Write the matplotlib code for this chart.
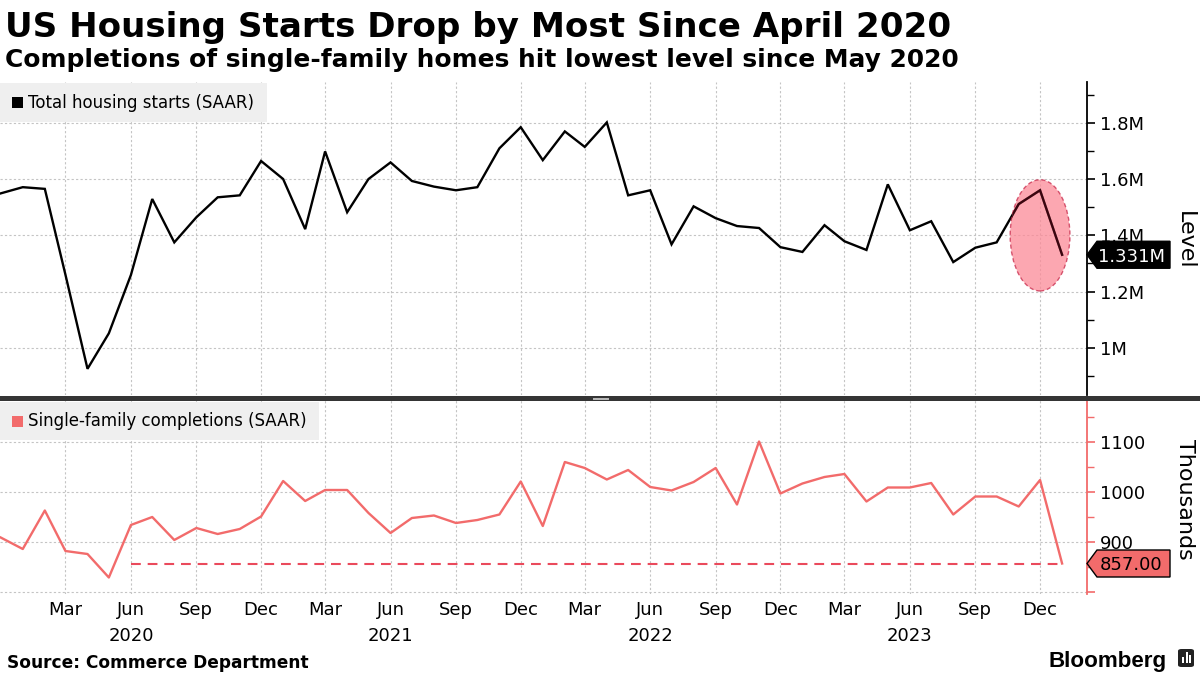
import matplotlib
matplotlib.use("Agg")
import matplotlib.pyplot as plt
import matplotlib.dates as mdates
from matplotlib.patches import Rectangle, Ellipse, Polygon, FancyBboxPatch
from matplotlib.lines import Line2D
from matplotlib.ticker import FixedLocator
import pandas as pd

# ---------------- data ----------------
dates = pd.date_range("2019-12-01", "2024-01-01", freq="MS")

housing_starts = [1.549, 1.571, 1.565, 1.260, 0.926, 1.052, 1.259, 1.529, 1.375, 1.464, 1.535, 1.542, 1.664,
                  1.600, 1.422, 1.698, 1.482, 1.600, 1.659, 1.593, 1.573, 1.560, 1.571, 1.709, 1.784,
                  1.667, 1.769, 1.714, 1.801, 1.542, 1.560, 1.368, 1.503, 1.461, 1.433, 1.426, 1.358,
                  1.341, 1.436, 1.379, 1.348, 1.581, 1.418, 1.450, 1.305, 1.356, 1.375, 1.511, 1.560,
                  1.331]

completions = [909, 886, 963, 882, 876, 829, 934, 950, 904, 928, 916, 926, 951,
               1022, 982, 1004, 1004, 958, 918, 948, 953, 938, 944, 955, 1021,
               932, 1060, 1048, 1025, 1044, 1010, 1003, 1020, 1048, 975, 1101, 997,
               1017, 1030, 1036, 981, 1009, 1009, 1018, 955, 991, 991, 971, 1024,
               857]

x_tick_dates = pd.date_range("2020-03-01", "2023-12-01", freq="3MS")

starts_ticks = [1.0, 1.2, 1.4, 1.6, 1.8]
starts_tick_labels = ["1M", "1.2M", "1.4M", "1.6M", "1.8M"]
comp_ticks = [800, 900, 1000, 1100]
comp_tick_labels = ["", "900", "1000", "1100"]

last_start_label = "1.331M"
last_comp_label = "857.00"
ref_line_start = "2020-06-01"
ref_line_end = "2024-01-01"
ref_line_value = 857
highlight_center = ("2023-12-01", 1.40)

title = "US Housing Starts Drop by Most Since April 2020"
subtitle = "Completions of single-family homes hit lowest level since May 2020"
source = "Source: Commerce Department"
legend1 = "Total housing starts (SAAR)"
legend2 = "Single-family completions (SAAR)"

# ---------------- styling ----------------
BLACK = "#000000"
SALMON = "#f26b6b"
DASH = "#ea4a5c"
GRID = "#c4c4c4"
LEGBG = "#efefef"

W, H = 1200, 675
fig = plt.figure(figsize=(12, 6.75), dpi=100)
fig.patch.set_facecolor("white")
plt.rcParams["font.family"] = ["DejaVu Sans"]


def fx(px):
    return px / W


def fy(py):
    return 1 - py / H


ax1 = fig.add_axes([0, fy(395), 1087 / W, (395 - 82) / H])
ax2 = fig.add_axes([0, fy(594), 1087 / W, (594 - 400) / H])

xmin = pd.Timestamp("2019-11-30")
xmax = pd.Timestamp("2024-02-05")
xt = mdates.date2num(x_tick_dates.to_pydatetime())

for ax in (ax1, ax2):
    ax.set_xlim(xmin, xmax)
    ax.xaxis.set_major_locator(FixedLocator(xt))
    ax.grid(True, which="major", color=GRID, linestyle=(0, (2, 2)), linewidth=0.8)
    ax.set_axisbelow(True)
    for s in ("top", "left", "bottom"):
        ax.spines[s].set_visible(False)
    ax.yaxis.tick_right()
    ax.tick_params(axis="x", length=0)
    ax.tick_params(axis="y", which="major", length=6, width=1.2, labelsize=13, pad=3)
    ax.tick_params(axis="y", which="minor", length=5, width=1.0)
    ax.set_facecolor("none")

# top panel
ax1.plot(dates, housing_starts, color=BLACK, lw=1.7, zorder=2, solid_joinstyle="miter")
ax1.set_ylim(0.833, 1.9445)
ax1.yaxis.set_major_locator(FixedLocator(starts_ticks))
ax1.set_yticklabels(starts_tick_labels)
ax1.yaxis.set_minor_locator(FixedLocator([0.9, 1.1, 1.3, 1.5, 1.7, 1.9]))
ax1.spines["right"].set_color(BLACK)
ax1.spines["right"].set_linewidth(1.3)
ax1.tick_params(axis="x", labelbottom=False)

cx = mdates.date2num(pd.Timestamp(highlight_center[0]))
ell = Ellipse((cx, highlight_center[1]), width=84, height=0.395,
              facecolor="#fc8a97", alpha=0.75, edgecolor="#c8284a",
              linestyle=(0, (3, 2)), linewidth=1.0, zorder=3)
ax1.add_patch(ell)
# the line seen through the pink highlight reads dark maroon
clip_ell = Ellipse((cx, highlight_center[1]), width=84, height=0.395,
                   facecolor="none", edgecolor="none", transform=ax1.transData)
inner, = ax1.plot(dates, housing_starts, color="#3a0610", lw=1.7, zorder=4,
                  solid_joinstyle="miter")
inner.set_clip_path(clip_ell)

# bottom panel
ax2.plot(dates, completions, color=SALMON, lw=1.7, zorder=4)
ax2.plot([pd.Timestamp(ref_line_start), pd.Timestamp(ref_line_end)],
         [ref_line_value, ref_line_value], color=DASH, lw=1.5,
         linestyle=(0, (4.7, 3.3)), zorder=3)
ax2.set_ylim(796, 1184)
ax2.yaxis.set_major_locator(FixedLocator(comp_ticks))
ax2.set_yticklabels(comp_tick_labels)
ax2.yaxis.set_minor_locator(FixedLocator([850, 950, 1050, 1150]))
ax2.spines["right"].set_color(SALMON)
ax2.spines["right"].set_linewidth(1.3)
ax2.tick_params(axis="y", which="both", color=SALMON)

labs = []
for d in x_tick_dates:
    s = d.strftime("%b")
    if d.month == 6:
        s += "\n" + str(d.year)
    labs.append(s)
ax2.set_xticks(xt)
ax2.set_xticklabels(labs)
ax2.tick_params(axis="x", labelsize=13, pad=5)
for lbl in ax2.get_xticklabels():
    lbl.set_linespacing(1.6)


# value tags on right axis
def tag(ax, val, text, fc, tc, ec):
    y0 = ax.transData.transform((0, val))[1]
    x0 = ax.transAxes.transform((1, 0))[0]
    h = 13.5
    pts = [(x0, y0), (x0 + 10, y0 + h), (x0 + 83, y0 + h), (x0 + 83, y0 - h), (x0 + 10, y0 - h)]
    pts = [(p[0] / W, p[1] / H) for p in pts]
    fig.add_artist(Polygon(pts, closed=True, facecolor=fc, edgecolor=ec, lw=1.0,
                           transform=fig.transFigure, zorder=10))
    fig.text((x0 + 44) / W, y0 / H, text, color=tc, fontsize=13, ha="center",
             va="center_baseline", zorder=11)


tag(ax1, housing_starts[-1], last_start_label, "#000000", "white", "#000000")
tag(ax2, completions[-1], last_comp_label, SALMON, "black", "black")

# axis titles
fig.text(fx(1185), fy(240), "Level", rotation=270, fontsize=16, ha="center", va="center")
fig.text(fx(1185), fy(499), "Thousands", rotation=270, fontsize=16, ha="center", va="center")

# legend boxes
fig.add_artist(Rectangle((0, fy(122)), fx(267), (122 - 82.5) / H, facecolor=LEGBG,
                         edgecolor="none", transform=fig.transFigure, zorder=5))
fig.add_artist(Rectangle((fx(11.5), fy(108)), fx(11), 11 / H, facecolor=BLACK,
                         edgecolor="none", transform=fig.transFigure, zorder=6))
fig.add_artist(Rectangle((0, fy(440)), fx(319), (440 - 402) / H, facecolor=LEGBG,
                         edgecolor="none", transform=fig.transFigure, zorder=5))
fig.add_artist(Rectangle((fx(12), fy(427)), fx(11), 11 / H, facecolor=SALMON,
                         edgecolor="none", transform=fig.transFigure, zorder=6))

# separator between panels
fig.add_artist(Rectangle((0, fy(400.5)), 1, 4.5 / H, facecolor="#353535",
                         edgecolor="none", transform=fig.transFigure, zorder=7))
for yy in (397.6, 399.3):
    fig.add_artist(Line2D([fx(593), fx(608)], [fy(yy), fy(yy)], color="#bdbdbd",
                          lw=0.7, transform=fig.transFigure, zorder=8))

renderer = fig.canvas.get_renderer()


def fit(t, target):
    w = t.get_window_extent(renderer).width
    t.set_fontsize(t.get_fontsize() * target / w)


lt1 = fig.text(fx(28), fy(102.5), legend1, fontsize=12.5, va="center", zorder=6)
lt2 = fig.text(fx(28), fy(421.5), legend2, fontsize=12.5, va="center", zorder=6)
fit(lt1, 227)
fit(lt2, 280)

tt = fig.text(fx(5), fy(37), title, fontsize=26, fontweight="bold", va="baseline")
fit(tt, 947)
st = fig.text(fx(5), fy(67), subtitle, fontsize=18, fontweight="bold", va="baseline")
fit(st, 953)
so = fig.text(fx(7), fy(668), source, fontsize=12, fontweight="bold", va="baseline")
fit(so, 301)
bl = fig.text(fx(1048), fy(667), "Bloomberg", fontsize=15, fontweight="bold",
              family=["Liberation Sans", "DejaVu Sans"], va="baseline")
fit(bl, 119)

# Bloomberg icon
fig.add_artist(FancyBboxPatch((fx(1178), fy(667)), fx(16), 18 / H,
                              boxstyle="round,pad=0,rounding_size=0.003",
                              facecolor="#222222", edgecolor="none",
                              transform=fig.transFigure, zorder=6))
for bx, bh in ((1182, 6), (1185.5, 11), (1189, 8)):
    fig.add_artist(Rectangle((fx(bx), fy(663)), fx(2), bh / H, facecolor="white",
                             edgecolor="none", transform=fig.transFigure, zorder=7))

fig.savefig("out.png", dpi=100, facecolor="white")
